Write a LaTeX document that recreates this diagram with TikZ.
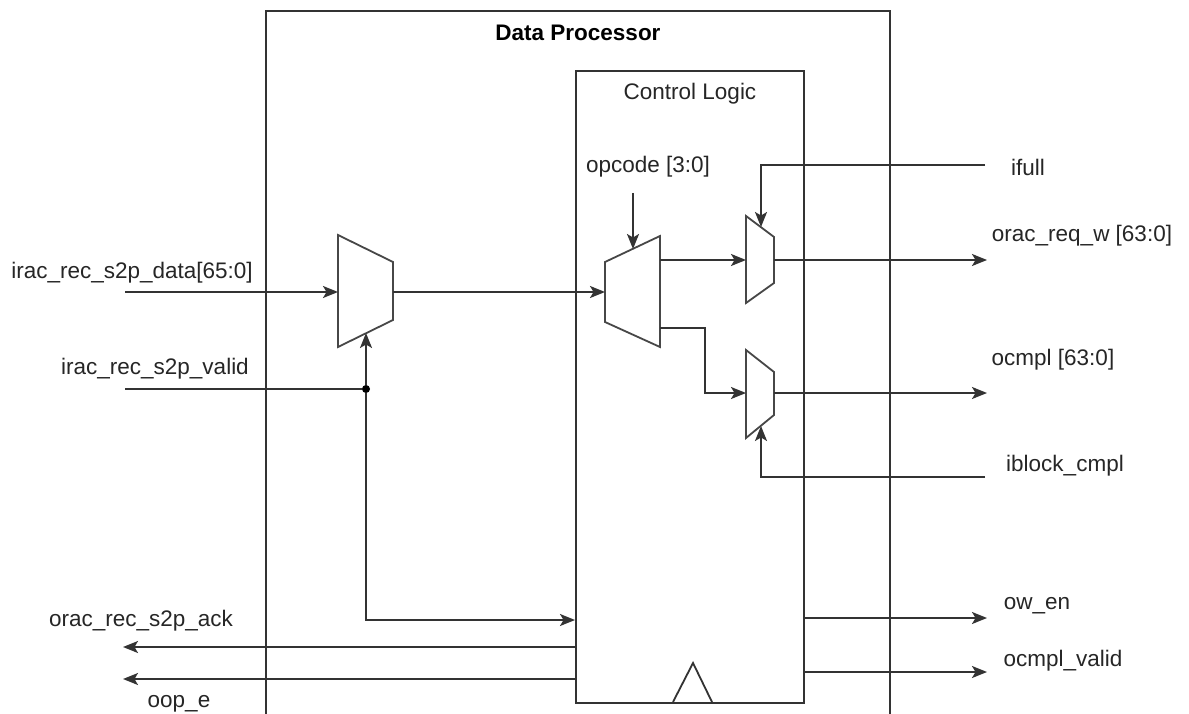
\documentclass[tikz,border=0pt]{standalone}
\usepackage{fontspec}
\setmainfont{Liberation Sans}
\usetikzlibrary{arrows.meta}
\begin{document}
\begin{tikzpicture}[x=1pt,y=-1pt,
  wire/.style={line width=1.8pt,draw=black!80},
  sig/.style={wire,-{Stealth[length=15pt,width=12pt,inset=3.5pt]}},
  muxshape/.style={line width=1.8pt,draw=black!72,fill=white,line join=miter},
  blk/.style={draw=black!80,line width=1.8pt},
  lbl/.style={font=\fontsize{22.5}{25}\selectfont,text=black!85,inner sep=0pt},
  ttl/.style={font=\fontsize{22.5}{25}\selectfont\bfseries,text=black,inner sep=0pt},
  pin/.style={circle,fill=black,inner sep=0pt,minimum size=8pt}]
\useasboundingbox (0,0) rectangle (1189,714);
\fill[white] (0,0) rectangle (1189,714);
\begin{scope}
\clip (0,0) rectangle (1189,714);
\node[blk,anchor=north west,minimum width=624pt,minimum height=720pt,inner sep=0pt] (dp) at (265,10) {};
\end{scope}
\node[ttl] (dptitle) at (578,33) {Data Processor};
\node[blk,anchor=north west,minimum width=228pt,minimum height=632pt,inner sep=0pt] (cl) at (575,70) {};
\node[lbl] (cltitle) at (690,94) {Control Logic};
% clock triangle
\draw[blk,line join=miter] (673,702) coordinate (ck1) -- (693,663) coordinate (ck2) -- (712,702) coordinate (ck3);
% mux 1
\draw[muxshape] (338,235) -- (393,262) -- (393,320) -- (338,347) -- cycle;
\coordinate (m1in) at (338,292);
\coordinate (m1out) at (393,292);
\coordinate (m1sel) at (366,333);
% mux 2
\draw[muxshape] (605,262) -- (660,236) -- (660,347) -- (605,322) -- cycle;
\coordinate (m2in) at (605,292);
\coordinate (m2outa) at (660,260);
\coordinate (m2outb) at (660,328);
\coordinate (m2sel) at (633,249);
% mux 3
\draw[muxshape] (746,216) -- (774,237) -- (774,283) -- (746,303) -- cycle;
\coordinate (m3in) at (746,260);
\coordinate (m3out) at (774,260);
\coordinate (m3sel) at (761,227);
% mux 4
\draw[muxshape] (746,350) -- (774,372) -- (774,415) -- (746,438) -- cycle;
\coordinate (m4in) at (746,393);
\coordinate (m4out) at (774,393);
\coordinate (m4sel) at (761,426);
% labels
\node[lbl] (ldata) at (132,273) {irac\_rec\_s2p\_data[65:0]};
\node[lbl] (lvalid) at (155,369) {irac\_rec\_s2p\_valid};
\node[lbl] (lack) at (141,621) {orac\_rec\_s2p\_ack};
\node[lbl] (loop) at (179,704) {oop\_e};
\node[lbl] (lop) at (648,167) {opcode [3:0]};
\node[lbl] (lifull) at (1028,167) {ifull};
\node[lbl] (lreq) at (1082,236) {orac\_req\_w [63:0]};
\node[lbl] (locmpl) at (1053,360) {ocmpl [63:0]};
\node[lbl] (liblock) at (1065,466) {iblock\_cmpl};
\node[lbl] (lowen) at (1037,606) {ow\_en};
\node[lbl] (locv) at (1063,661) {ocmpl\_valid};
% wire end points
\coordinate (datain) at (125,292);
\coordinate (validin) at (125,389);
\node[pin] (vdot) at (366,389) {};
\coordinate (ackout) at (123,647);
\coordinate (oopout) at (123,679);
\coordinate (opin) at (633,193);
\coordinate (ifullin) at (985,165);
\coordinate (reqout) at (987,260);
\coordinate (cmplout) at (987,393);
\coordinate (iblkin) at (985,477);
\coordinate (owout) at (987,618);
\coordinate (ocvout) at (987,672);
% connectors
\draw[sig] (datain) -- (m1in);
\draw[wire] (validin) -- (vdot);
\draw[sig] (vdot) -- (m1sel);
\draw[sig] (vdot) |- (cl.west |- 0,620);
\draw[sig] (m1out) -- (m2in);
\draw[sig] (opin) -- (m2sel);
\draw[sig] (m2outa) -- (m3in);
\draw[sig] (m2outb) -- (705,328) |- (m4in);
\draw[sig] (ifullin) -| (m3sel);
\draw[sig] (m3out) -- (reqout);
\draw[sig] (m4out) -- (cmplout);
\draw[sig] (iblkin) -| (m4sel);
\draw[sig] (cl.west |- 0,647) -- (ackout);
\draw[sig] (cl.west |- 0,679) -- (oopout);
\draw[sig] (cl.east |- 0,618) -- (owout);
\draw[sig] (cl.east |- 0,672) -- (ocvout);
\end{tikzpicture}
\end{document}
